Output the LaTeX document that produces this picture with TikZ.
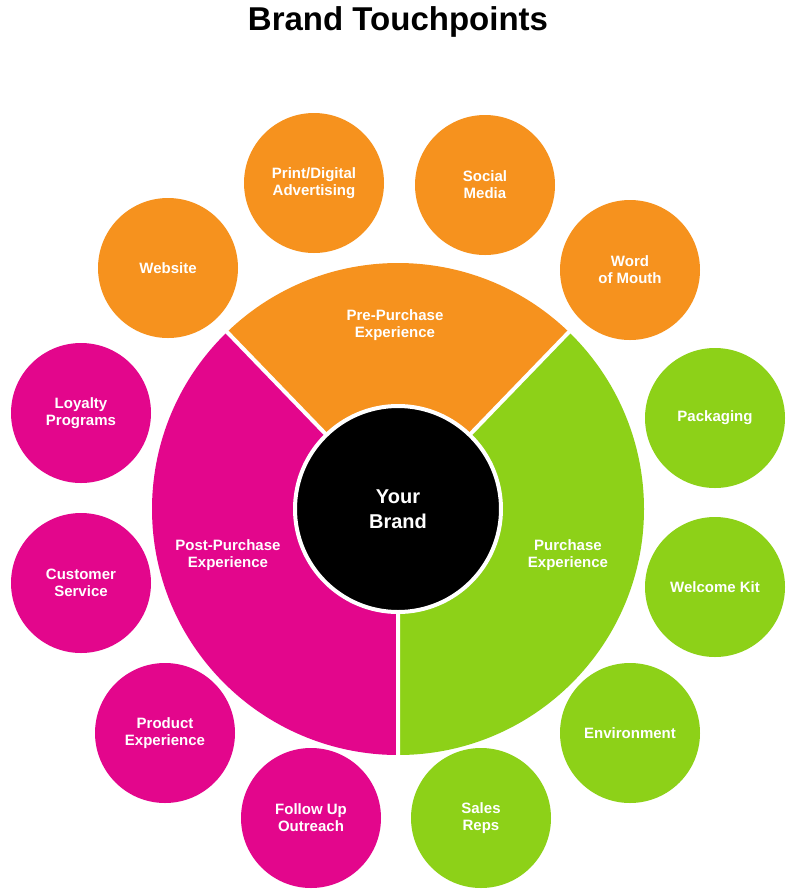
\documentclass[tikz,border=0pt]{standalone}
\usepackage{fontspec}
\setmainfont{Liberation Sans}
\begin{document}
\begin{tikzpicture}[x=1pt,y=1pt,
  bub/.style={circle,minimum size=140pt,inner sep=0pt,text=white,font=\bfseries\fontsize{15}{17}\selectfont,align=center},
  lab/.style={text=white,font=\bfseries\fontsize{15}{17}\selectfont,align=center}]
\definecolor{cOr}{HTML}{F6921E}
\definecolor{cMa}{HTML}{E3068C}
\definecolor{cGr}{HTML}{8DD118}
\useasboundingbox (0,0) rectangle (800,-895);
\fill[white] (0,0) rectangle (800,-895);
\node[font=\bfseries\fontsize{33}{36}\selectfont] (title) at (398,-22) {Brand Touchpoints};
\coordinate (c) at (398,-509);
\fill[cOr] (c) -- ++(46:246) arc[start angle=46,end angle=134,radius=246] -- cycle;
\fill[cGr] (c) -- ++(-90:246) arc[start angle=-90,end angle=46,radius=246] -- cycle;
\fill[cMa] (c) -- ++(134:246) arc[start angle=134,end angle=270,radius=246] -- cycle;
\draw[white,line width=4pt] (c) -- ++(46:248) (c) -- ++(134:248) (c) -- ++(-90:248);
\node[circle,fill=black,draw=white,line width=4pt,minimum size=206pt,inner sep=0pt,text=white,font=\bfseries\fontsize{20}{25}\selectfont,align=center] (brand) at (c) {Your\\Brand};
\node[lab] (pre) at (395,-325) {Pre-Purchase\\Experience};
\node[lab] (pur) at (568,-555) {Purchase\\Experience};
\node[lab] (post) at (228,-555) {Post-Purchase\\Experience};
\node[bub,fill=cOr] (web) at (168,-268) {Website};
\node[bub,fill=cOr] (print) at (314,-183) {Print/Digital\\Advertising};
\node[bub,fill=cOr] (social) at (485,-185) {Social\\Media};
\node[bub,fill=cOr] (word) at (630,-270) {Word\\of Mouth};
\node[bub,fill=cGr] (pack) at (715,-418) {Packaging};
\node[bub,fill=cGr] (kit) at (715,-587) {Welcome Kit};
\node[bub,fill=cGr] (env) at (630,-733) {Environment};
\node[bub,fill=cGr] (sales) at (481,-818) {Sales\\Reps};
\node[bub,fill=cMa] (follow) at (311,-818) {Follow Up\\Outreach};
\node[bub,fill=cMa] (prod) at (165,-733) {Product\\Experience};
\node[bub,fill=cMa] (cust) at (81,-583) {Customer\\Service};
\node[bub,fill=cMa] (loyal) at (81,-413) {Loyalty\\Programs};
\end{tikzpicture}
\end{document}
